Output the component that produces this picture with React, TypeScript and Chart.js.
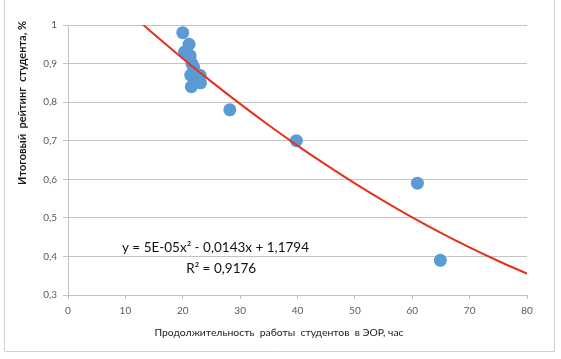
import React, { useEffect, useRef } from "react";
import { Chart, registerables } from "chart.js";

Chart.register(...registerables);

const hours = [20.0, 21.1, 20.3, 21.3, 21.6, 21.9, 21.4, 23.0, 22.2, 23.1, 21.5, 28.2, 39.8, 60.9, 64.9];
const ratings = [0.98, 0.95, 0.93, 0.92, 0.9, 0.89, 0.87, 0.87, 0.86, 0.85, 0.84, 0.78, 0.7, 0.59, 0.39];

// Trendline coefficients as printed on the chart
const trendA = 0.00005;
const trendB = -0.0143;
const trendC = 1.1794;
const trendXs = [13, 15, 20, 25, 30, 35, 40, 45, 50, 55, 60, 65, 70, 75, 80];

const equationText = "y = 5E-05x² - 0,0143x + 1,1794";
const r2Text = "R² = 0,9176";
const xTitle = "Продолжительность  работы  студентов  в ЭОР, час";
const yTitle = "Итоговый  рейтинг  студента, %";

const FONT = "Lato, 'Open Sans', sans-serif";

export default function App() {
  const ref = useRef<HTMLCanvasElement | null>(null);

  useEffect(() => {
    document.body.style.margin = "0";
    const canvas = ref.current;
    if (!canvas) return;

    const decor = {
      id: "decor",
      afterDraw(chart: any) {
        const ctx = chart.ctx;
        const xs = chart.scales.x;
        const ys = chart.scales.y;
        ctx.save();
        // outer frame
        ctx.strokeStyle = "#d0d0d0";
        ctx.lineWidth = 1;
        ctx.beginPath();
        ctx.moveTo(4.5, 0);
        ctx.lineTo(4.5, 351.5);
        ctx.lineTo(554.5, 351.5);
        ctx.lineTo(554.5, 0);
        ctx.stroke();
        // y title
        ctx.fillStyle = "#1a1a1a";
        ctx.font = `bold 11px ${FONT}`;
        ctx.textAlign = "center";
        ctx.textBaseline = "middle";
        ctx.translate(22, 103);
        ctx.rotate(-Math.PI / 2);
        ctx.fillText(yTitle, 0, 0);
        ctx.restore();
        ctx.save();
        // x title
        ctx.fillStyle = "#1a1a1a";
        ctx.font = `10.4px ${FONT}`;
        ctx.textAlign = "center";
        ctx.textBaseline = "middle";
        ctx.fillText(xTitle, 279, 333);
        // equation
        ctx.font = `13.5px ${FONT}`;
        ctx.fillStyle = "#111";
        ctx.textAlign = "left";
        ctx.fillText(equationText, xs.getPixelForValue(9.4), ys.getPixelForValue(0.423));
        ctx.fillText(r2Text, xs.getPixelForValue(20.6), ys.getPixelForValue(0.369));
        ctx.restore();
      },
    };

    const chart = new Chart(canvas, {
      type: "scatter",
      data: {
        datasets: [
          {
            label: "trend",
            data: trendXs.map((x) => ({ x, y: trendA * x * x + trendB * x + trendC })),
            showLine: true,
            borderColor: "#e5301c",
            borderWidth: 2,
            pointRadius: 0,
            tension: 0.4,
            clip: 0,
            order: 1,
          } as any,
          {
            label: "data",
            data: hours.map((h, i) => ({ x: h, y: ratings[i] })),
            backgroundColor: "#5b9bd5",
            borderColor: "#5b9bd5",
            borderWidth: 0,
            pointRadius: 6.5,
            order: 2,
          },
        ],
      },
      options: {
        animation: false,
        responsive: false,
        layout: { padding: { left: 0, right: 34, top: 25, bottom: 0 } },
        plugins: { legend: { display: false }, tooltip: { enabled: false } },
        scales: {
          x: {
            type: "linear",
            min: 0,
            max: 80,
            afterFit(s: any) {
              s.height = 64;
            },
            ticks: {
              stepSize: 10,
              color: "#595959",
              font: { family: FONT, size: 10 },
              padding: 6,
            },
            grid: {
              display: true,
              drawOnChartArea: false,
              drawTicks: true,
              tickLength: 4,
              color: "#bfbfbf",
            },
            border: { display: true, color: "#bfbfbf" },
          },
          y: {
            type: "linear",
            min: 0.3,
            max: 1,
            afterFit(s: any) {
              s.width = 68;
            },
            ticks: {
              stepSize: 0.1,
              color: "#595959",
              font: { family: FONT, size: 10 },
              padding: 6,
              callback: (v: any) => {
                const n = Math.round(Number(v) * 10) / 10;
                return n === 1 ? "1" : n.toFixed(1).replace(".", ",");
              },
            },
            grid: {
              color: "#c4c4c4",
              tickLength: 5,
            },
            border: { display: true, color: "#bfbfbf" },
          },
        },
      },
      plugins: [decor],
    });

    return () => chart.destroy();
  }, []);

  return (
    <div style={{ position: "relative", width: 561, height: 359, background: "#fff" }}>
      <canvas ref={ref} width={561} height={359} style={{ display: "block" }} />
    </div>
  );
}
